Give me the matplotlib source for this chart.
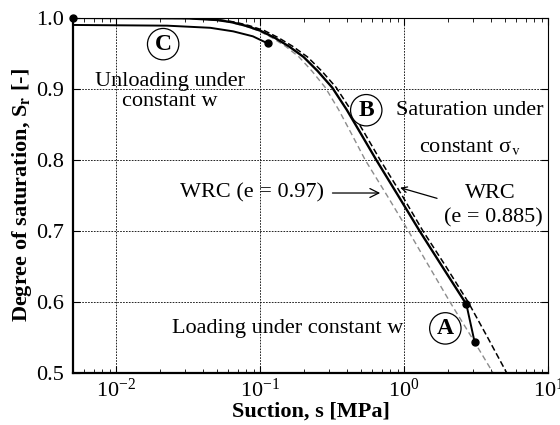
import matplotlib
matplotlib.use("Agg")
import matplotlib.pyplot as plt

plt.rcParams['font.family'] = ['Liberation Serif', 'DejaVu Serif']
plt.rcParams['mathtext.fontset'] = 'stix'

# main path (saturation B), from left end down to point A
s_main = [0.005, 0.0316, 0.050, 0.063, 0.079, 0.1, 0.126, 0.158, 0.2, 0.251, 0.316, 0.398, 0.5,
          0.64, 0.9, 1.28, 1.85, 2.70]
sr_main = [1.0, 0.9993, 0.997, 0.994, 0.989, 0.982, 0.972, 0.960, 0.945, 0.925, 0.902, 0.871, 0.837,
           0.8, 0.751, 0.7, 0.649, 0.597]

# WRC e = 0.885 (black dashed)
s_wrc1 = [0.005, 0.034, 0.053, 0.067, 0.084, 0.107, 0.134, 0.168, 0.213, 0.268, 0.337, 0.424, 0.533,
          0.681, 0.96, 1.35, 1.95, 2.78, 3.8, 5.16]
sr_wrc1 = [1.0, 0.9993, 0.997, 0.994, 0.989, 0.982, 0.972, 0.960, 0.945, 0.925, 0.902, 0.871, 0.837,
           0.8, 0.751, 0.7, 0.65, 0.6, 0.55, 0.5]

# WRC e = 0.97 (grey dashed)
s_wrc2 = [0.005, 0.031, 0.049, 0.061, 0.077, 0.097, 0.121, 0.15, 0.186, 0.229, 0.283, 0.35, 0.43,
          0.536, 0.76, 1.07, 1.5, 2.08, 2.95, 4.15]
sr_wrc2 = [1.0, 0.9993, 0.997, 0.994, 0.989, 0.982, 0.972, 0.960, 0.945, 0.925, 0.902, 0.871, 0.837,
           0.8, 0.75, 0.7, 0.649, 0.6, 0.55, 0.5]

# unloading path C
s_unl = [0.005, 0.0226, 0.045, 0.065, 0.089, 0.113]
sr_unl = [0.990, 0.989, 0.986, 0.981, 0.974, 0.964]

# loading path A
s_load = [2.70, 3.08]
sr_load = [0.597, 0.544]

fig = plt.figure(figsize=(5.6, 4.25), dpi=100)
ax = fig.add_axes([0.130, 0.122, 0.849, 0.836])

ax.plot(s_wrc2, sr_wrc2, color='#8c8c8c', lw=1.0, ls=(0, (4, 2.5)))
ax.plot(s_wrc1, sr_wrc1, color='black', lw=1.1, ls=(0, (4, 2)))
ax.plot(s_main, sr_main, color='black', lw=1.7)
ax.plot(s_unl, sr_unl, color='black', lw=1.4)
ax.plot(s_load, sr_load, color='black', lw=1.4)
ax.plot([s_main[0], s_unl[-1], s_load[0], s_load[1]],
        [sr_main[0], sr_unl[-1], sr_load[0], sr_load[1]],
        'o', color='black', ms=5, clip_on=False, zorder=5)

ax.set_xscale('log')
ax.set_xlim(0.005, 10)
ax.set_ylim(0.5, 1.0)
ax.set_yticks([0.5, 0.6, 0.7, 0.8, 0.9, 1.0])
ax.set_yticklabels(['0.5', '0.6', '0.7', '0.8', '0.9', '1.0'])
ax.grid(True, which='major', color='black', ls=(0, (2, 1.5)), lw=0.6)
ax.tick_params(which='both', direction='in', top=True, right=True, labelsize=16)
ax.tick_params(which='major', length=5)
ax.tick_params(which='minor', length=3)
ax.tick_params(axis='y', pad=6)
ax.tick_params(axis='x', pad=4)
for side in ['left', 'bottom']:
    ax.spines[side].set_linewidth(1.6)
for side in ['top', 'right']:
    ax.spines[side].set_linewidth(0.8)

ax.set_xlabel('Suction, s [MPa]', fontsize=16, fontweight='bold', labelpad=0)
ax.set_ylabel('Degree of saturation, S$_\\mathbf{r}$ [-]', fontsize=16, fontweight='bold', labelpad=2)

fs = 16
circ = dict(boxstyle='circle,pad=0.22', fc='white', ec='black', lw=0.9)
ax.text(0.0212, 0.963, 'C', fontsize=17, fontweight='bold', ha='center', va='center', bbox=circ)
ax.text(0.545, 0.870, 'B', fontsize=17, fontweight='bold', ha='center', va='center', bbox=circ)
ax.text(1.93, 0.563, 'A', fontsize=17, fontweight='bold', ha='center', va='center', bbox=circ)

ax.text(0.0237, 0.910, 'Unloading under', fontsize=fs, ha='center', va='center')
ax.text(0.0237, 0.882, 'constant w', fontsize=fs, ha='center', va='center')
ax.text(2.84, 0.870, 'Saturation under', fontsize=fs, ha='center', va='center')
ax.text(2.84, 0.817, 'constant σ$_\\mathrm{v}$', fontsize=fs, ha='center', va='center')
ax.text(0.156, 0.563, 'Loading under constant w', fontsize=fs, ha='center', va='center')

ax.annotate('WRC (e = 0.97)', xy=(0.681, 0.7535), xytext=(0.0278, 0.7535), fontsize=fs,
            ha='left', va='center',
            arrowprops=dict(arrowstyle='->', color='black', lw=0.9, shrinkA=4, shrinkB=0))
ax.annotate('', xy=(0.937, 0.761), xytext=(1.69, 0.746),
            arrowprops=dict(arrowstyle='->', color='black', lw=0.9, shrinkA=0, shrinkB=0))
ax.text(3.95, 0.7535, 'WRC', fontsize=fs, ha='center', va='center')
ax.text(4.15, 0.718, '(e = 0.885)', fontsize=fs, ha='center', va='center')

fig.savefig('out.png', dpi=100)
